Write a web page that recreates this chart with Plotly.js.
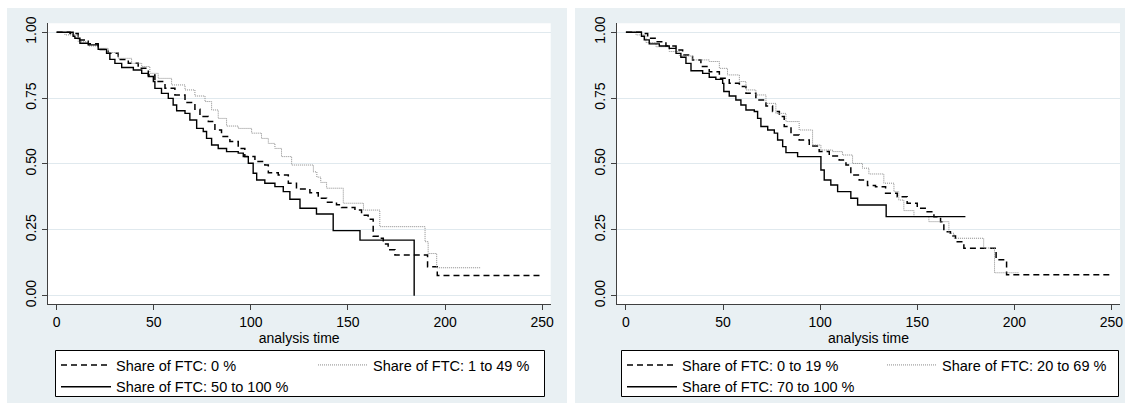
<!DOCTYPE html>
<html><head><meta charset="utf-8">
<script src="https://cdn.plot.ly/plotly-3.0.1.min.js"></script>
<style>html,body{margin:0;padding:0;background:#fff}#chart{width:1125px;height:410px}</style>
</head><body><div id="chart"></div>
<script>
// ---------- Left panel: share of FTC 0 % / 1-49 % / 50-100 % ----------
const left_labels = ["Share of FTC: 0 %", "Share of FTC: 1 to 49 %", "Share of FTC: 50 to 100 %"];
const left_t0 = [0,6.9,11.1,16.3,21.4,26.6,31.7,36.9,42.0,47.2,50.6,55.8,60.9,66.1,71.2,73.8,78.1,81.5,84.9,89.2,93.5,96.9,102.1,107.2,109.0,114.1,119.3,123.5,130.4,134.7,139.0,144.1,146.7,153.6,157.0,160.4,163.0,165.6,168.2,170.7,174.2,191.0,196.0,249.7];
const left_s0 = [1,0.995,0.971,0.956,0.935,0.920,0.897,0.882,0.863,0.838,0.813,0.787,0.762,0.733,0.708,0.680,0.661,0.629,0.604,0.585,0.559,0.528,0.509,0.496,0.467,0.458,0.427,0.405,0.391,0.370,0.355,0.345,0.335,0.325,0.305,0.290,0.226,0.218,0.196,0.174,0.154,0.110,0.077,0.077];
const left_t1 = [0,4.3,11.1,16.3,21.4,26.6,31.7,38.6,43.8,48.0,52.3,59.2,66.1,71.2,76.4,79.8,83.2,87.5,93.5,100.4,105.5,109.0,112.4,115.8,121.0,132.2,134.0,136.0,139.0,147.6,158.0,166.4,189.7,191.3,195.7,218.2];
const left_s1 = [1,0.990,0.964,0.948,0.939,0.923,0.901,0.882,0.870,0.844,0.825,0.800,0.781,0.758,0.737,0.705,0.673,0.644,0.635,0.617,0.597,0.578,0.559,0.528,0.496,0.470,0.450,0.430,0.408,0.351,0.325,0.262,0.205,0.160,0.106,0.106];
const left_t2 = [0,8.5,9.4,12.0,16.3,21.4,25.7,27.4,30.0,33.5,39.5,43.8,47.2,49.8,50.6,54.0,57.5,60.0,61.8,66.1,68.6,72.1,75.5,77.2,79.8,83.2,87.5,93.5,96.1,98.7,101.2,103.0,107.2,112.4,116.7,120.1,125.3,133.8,142.4,156.2,184.1];
const left_s2 = [1,0.985,0.977,0.958,0.952,0.935,0.920,0.897,0.882,0.866,0.857,0.844,0.832,0.813,0.787,0.768,0.749,0.724,0.702,0.692,0.667,0.635,0.623,0.597,0.572,0.559,0.547,0.541,0.528,0.503,0.465,0.439,0.427,0.414,0.395,0.366,0.332,0.310,0.247,0.211,0.0];

// ---------- Right panel: share of FTC 0-19 % / 20-69 % / 70-100 % ----------
const right_labels = ["Share of FTC: 0 to 19 %", "Share of FTC: 20 to 69 %", "Share of FTC: 70 to 100 %"];
const right_t0 = [0,8.6,11.2,15.5,20.6,25.8,29.2,34.3,38.6,42.9,48.1,53.2,58.4,61.8,66.9,72.1,75.5,79.0,81.5,85.0,89.2,94.4,99.5,104.7,109.8,113.3,115.8,120.1,124.4,128.5,133.7,139.7,144.8,150.0,155.1,158.6,162.0,163.7,167.1,169.7,174.0,190.6,196.0,250.0];
const right_s0 = [1,0.995,0.977,0.964,0.948,0.933,0.914,0.895,0.870,0.850,0.825,0.806,0.794,0.768,0.743,0.720,0.699,0.680,0.642,0.610,0.591,0.568,0.547,0.530,0.515,0.496,0.458,0.439,0.418,0.414,0.389,0.376,0.351,0.332,0.319,0.300,0.281,0.243,0.227,0.205,0.180,0.136,0.079,0.079];
const right_t1 = [0,5.2,10.3,15.5,22.3,27.5,34.3,42.9,48.1,52.3,58.4,61.8,66.9,72.1,77.2,82.4,89.2,96.1,100.4,106.4,111.5,116.7,121.8,125.1,132.8,138.0,140.5,143.1,148.3,156.0,166.3,168.9,184.2,189.8,202.3];
const right_s1 = [1,0.990,0.961,0.945,0.927,0.910,0.895,0.889,0.863,0.838,0.813,0.781,0.762,0.730,0.692,0.661,0.629,0.572,0.553,0.547,0.534,0.502,0.484,0.462,0.427,0.395,0.363,0.323,0.300,0.281,0.237,0.218,0.181,0.087,0.087];
const right_t2 = [0,8.0,9.45,12.0,17.2,22.3,25.8,28.3,30.9,33.5,39.5,42.9,46.3,49.8,50.4,53.2,56.6,59.2,61.8,66.1,67.8,69.5,73.0,76.4,78.1,80.7,82.4,88.4,100.4,102.1,105.5,109.0,115.8,119.3,134.0,174.8];
const right_s2 = [1,0.985,0.971,0.956,0.948,0.939,0.920,0.905,0.882,0.854,0.844,0.829,0.821,0.806,0.775,0.758,0.743,0.724,0.705,0.699,0.673,0.642,0.629,0.617,0.591,0.566,0.543,0.528,0.477,0.439,0.420,0.395,0.370,0.344,0.300,0.300];

const x_ticks = [0,50,100,150,200,250];
const y_ticks = [0,0.25,0.5,0.75,1];
const x_title = "analysis time";

// ---------- styling / layout ----------
const W = 1125, H = 410;
const FONT = '"Liberation Sans", Arial, Helvetica, sans-serif';
const styles = [
  {color:'#000000', width:1.5, dash:'6px,4px'},
  {color:'#8a8a8a', width:1, dash:'1px,1px'},
  {color:'#000000', width:1.4, dash:'solid'}
];
function mk(t, s, name, k, xa, ya, leg, grp) {
  return {type:'scatter', mode:'lines', x:t, y:s, name:name, xaxis:xa, yaxis:ya,
          line:{shape:'hv', color:styles[k].color, width:styles[k].width, dash:styles[k].dash},
          legend:leg, legendgroup:grp, hoverinfo:'skip'};
}
const data = [
  mk(left_t0, left_s0, left_labels[0], 0, 'x', 'y', 'legend', 'a'),
  mk(left_t1, left_s1, left_labels[1], 1, 'x', 'y', 'legend', 'b'),
  mk(left_t2, left_s2, left_labels[2], 2, 'x', 'y', 'legend', 'a'),
  mk(right_t0, right_s0, right_labels[0], 0, 'x2', 'y2', 'legend2', 'c'),
  mk(right_t1, right_s1, right_labels[1], 1, 'x2', 'y2', 'legend2', 'd'),
  mk(right_t2, right_s2, right_labels[2], 2, 'x2', 'y2', 'legend2', 'c')
];

const yDom = [1 - 304.3/H, 1 - 23.3/H];
const xDomL = [47.7/W, 550.7/W];
const xDomR = [617/W, 1120/W];
const AX = '#404040', GRID = '#e0e9ee', PANEL = '#e9f0f3';

function xax(dom, anchor) {
  return {domain:dom, anchor:anchor, range:[-4.6,254.4], tickvals:x_ticks, showgrid:false, zeroline:false,
          showline:true, linecolor:AX, linewidth:1, ticks:'outside', ticklen:5, tickcolor:AX,
          tickfont:{size:14, color:'#000'}, title:{text:x_title, font:{size:14, color:'#000'}, standoff:1}};
}
function yax(anchor) {
  return {domain:yDom, anchor:anchor, range:[-0.0327,1.034], tickvals:y_ticks, tickformat:'.2f', tickangle:-90,
          showgrid:true, gridcolor:GRID, gridwidth:1, zeroline:false,
          showline:true, linecolor:AX, linewidth:1, ticks:'outside', ticklen:5, tickcolor:AX,
          tickfont:{size:14, color:'#000'}};
}
function legend(x, ew) {
  return {x:x/W, y:1-349/H, xanchor:'left', yanchor:'top', orientation:'h', traceorder:'grouped',
          bgcolor:'rgba(0,0,0,0)', borderwidth:0, font:{size:14.5, color:'#000', family:FONT},
          itemwidth:50, entrywidth:ew, entrywidthmode:'pixels', tracegroupgap:0, itemclick:false, itemdoubleclick:false};
}
const shapes = [
  {type:'rect', xref:'paper', yref:'paper', x0:7/W, x1:567/W, y0:1-403/H, y1:1-8/H, fillcolor:PANEL, line:{width:0}, layer:'below'},
  {type:'rect', xref:'paper', yref:'paper', x0:575/W, x1:1, y0:1-403/H, y1:1-8/H, fillcolor:PANEL, line:{width:0}, layer:'below'},
  {type:'rect', xref:'paper', yref:'paper', x0:xDomL[0], x1:xDomL[1], y0:yDom[0], y1:yDom[1], fillcolor:'#ffffff', line:{width:0}, layer:'below'},
  {type:'rect', xref:'paper', yref:'paper', x0:xDomR[0], x1:xDomR[1], y0:yDom[0], y1:yDom[1], fillcolor:'#ffffff', line:{width:0}, layer:'below'},
  {type:'rect', xref:'paper', yref:'paper', x0:55.5/W, x1:544.5/W, y0:1-396.5/H, y1:1-350.5/H, fillcolor:'#ffffff', line:{width:1, color:'#000'}, layer:'below'},
  {type:'rect', xref:'paper', yref:'paper', x0:621.5/W, x1:1118.5/W, y0:1-396.5/H, y1:1-350.5/H, fillcolor:'#ffffff', line:{width:1, color:'#000'}, layer:'below'}
];
const layout = {
  width:W, height:H, margin:{l:0, r:0, t:0, b:0, autoexpand:false},
  paper_bgcolor:'#ffffff', plot_bgcolor:'#ffffff',
  font:{family:FONT, color:'#000'},
  showlegend:true,
  xaxis:xax(xDomL,'y'), yaxis:yax('x'),
  xaxis2:xax(xDomR,'y2'), yaxis2:yax('x2'),
  legend:legend(56, 192), legend2:legend(622, 195),
  shapes:shapes
};
Plotly.newPlot('chart', data, layout, {staticPlot:true, displayModeBar:false});
</script>
</body></html>
